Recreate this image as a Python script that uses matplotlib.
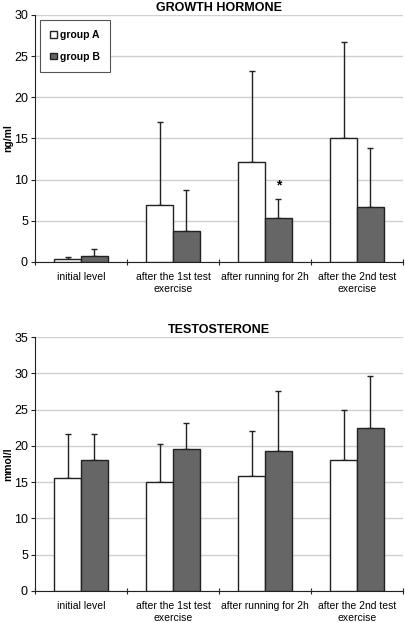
import numpy as np
import matplotlib
matplotlib.use('Agg')
import matplotlib.pyplot as plt
from matplotlib.patches import Patch

plt.rcParams['font.family'] = ['Liberation Sans', 'DejaVu Sans']

categories = ['initial level', 'after the 1st test\nexercise',
              'after running for 2h', 'after the 2nd test\nexercise']

# growth hormone, ng/ml
gh_a = [0.4, 6.9, 12.2, 15.1]
gh_b = [0.7, 3.8, 5.3, 6.7]
gh_a_top = [0.55, 17.0, 23.2, 26.7]
gh_b_top = [1.6, 8.8, 7.7, 13.9]

# testosterone, mmol/l
te_a = [15.6, 15.0, 15.8, 18.0]
te_b = [18.1, 19.6, 19.3, 22.4]
te_a_top = [21.6, 20.2, 22.1, 24.9]
te_b_top = [21.6, 23.1, 27.5, 29.6]

fig = plt.figure(figsize=(4.06, 6.23), dpi=100)
ax1 = fig.add_axes([0.086, 0.5795, 0.907, 0.3965])
ax2 = fig.add_axes([0.086, 0.0514, 0.907, 0.4076])

x = np.arange(len(categories))
w = 0.29
grey = '#666666'
edge = '#222222'


def draw(ax, a, b, a_top, b_top, ymax, ylabel, title):
    err_a = np.array(a_top) - np.array(a)
    err_b = np.array(b_top) - np.array(b)
    ax.bar(x - w / 2, a, w, color='white', edgecolor=edge, linewidth=1, zorder=3)
    ax.bar(x + w / 2, b, w, color=grey, edgecolor=edge, linewidth=1, zorder=3)
    ax.errorbar(x - w / 2, a, yerr=[np.zeros(4), err_a], fmt='none', ecolor=edge,
                elinewidth=1, capsize=2.5, capthick=1, zorder=2)
    ax.errorbar(x + w / 2, b, yerr=[np.zeros(4), err_b], fmt='none', ecolor=edge,
                elinewidth=1, capsize=2.5, capthick=1, zorder=2)
    ax.set_xlim(-0.5, 3.5)
    ax.set_ylim(0, ymax)
    ax.set_yticks(np.arange(0, ymax + 1, 5))
    ax.grid(axis='y', color='#d0d0d0', linewidth=1, zorder=0)
    ax.set_axisbelow(True)
    ax.set_xticks(np.arange(-0.5, 4, 1))
    ax.set_xticklabels([])
    ax.set_xticks(x, minor=True)
    ax.set_xticklabels(categories, minor=True, fontsize=7.5, linespacing=1.3)
    ax.tick_params(axis='x', which='minor', length=0, pad=7)
    ax.tick_params(axis='x', which='major', length=4, direction='inout', color=edge)
    ax.tick_params(axis='y', length=3, labelsize=9, color=edge, pad=2)
    for s in ['top', 'right']:
        ax.spines[s].set_visible(False)
    for s in ['left', 'bottom']:
        ax.spines[s].set_color(edge)
    ax.set_ylabel(ylabel, fontsize=7.5, fontweight='bold')
    ax.yaxis.set_label_coords(-0.06, 0.5)
    ax.set_title(title, fontsize=9, fontweight='bold', pad=3)


draw(ax1, gh_a, gh_b, gh_a_top, gh_b_top, 30, 'ng/ml', 'GROWTH HORMONE')
draw(ax2, te_a, te_b, te_a_top, te_b_top, 35, 'mmol/l', 'TESTOSTERONE')

ax1.text(2 + w / 2, 8.4, '*', ha='center', va='bottom', fontsize=10, fontweight='bold')

handles = [Patch(facecolor='white', edgecolor=edge, label='group A'),
           Patch(facecolor=grey, edgecolor=edge, label='group B')]
leg = ax1.legend(handles=handles, loc='upper left', bbox_to_anchor=(0.0136, 0.98),
                 borderaxespad=0, prop={'weight': 'bold', 'size': 7.5}, frameon=True,
                 fancybox=False, edgecolor='#555555', handlelength=0.6,
                 handleheight=0.6, handletextpad=0.3, labelspacing=1.1,
                 borderpad=1.0, framealpha=1)
leg.get_frame().set_linewidth(0.8)

fig.savefig('out.png', dpi=100)
